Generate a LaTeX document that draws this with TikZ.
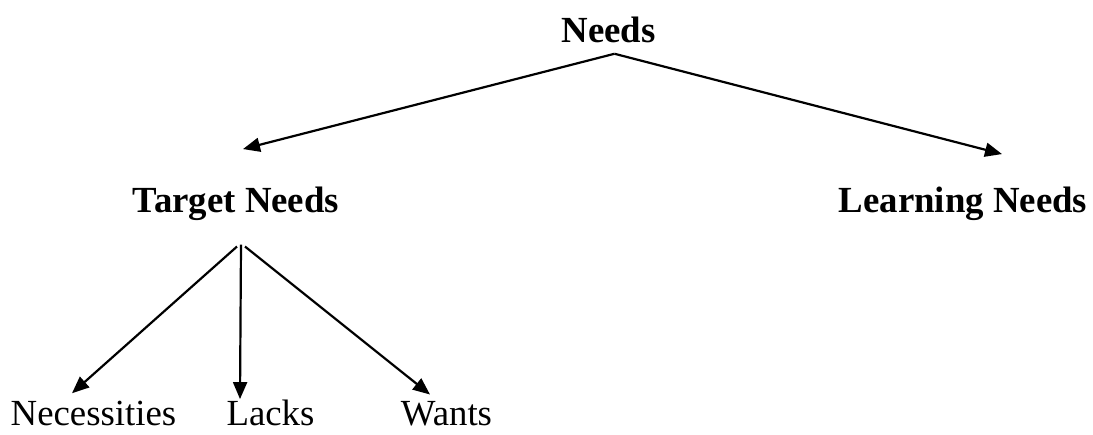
\documentclass[tikz,border=0pt]{standalone}
\usepackage{fontspec}
\setmainfont{Liberation Serif}
\usepackage{tikz}
\usetikzlibrary{arrows.meta,calc}
\tikzset{
  >={Triangle[length=8.5pt,width=7pt]},
  head/.style={font=\fontsize{18.4}{22}\selectfont\bfseries,inner sep=0pt,anchor=base},
  leaf/.style={font=\fontsize{18.4}{22}\selectfont,inner sep=0pt,anchor=base},
  arr/.style={->,draw=black,line width=1.1pt},
}
\begin{document}
\begin{tikzpicture}[x=0.5pt,y=-0.5pt]
\useasboundingbox (0,0) rectangle (1093,434);
\node[head] (needs) at (608.5,42) {Needs};
\node[head] (tn) at (236,212) {Target Needs};
\node[head] (ln) at (963,212) {Learning Needs};
\node[leaf] (nec) at (93.5,425) {Necessities};
\node[leaf] (lacks) at (270.5,425) {Lacks};
\node[leaf] (wants) at (446.5,425) {Wants};
\coordinate (top) at ($(needs.south)+(6,11)$);
\coordinate (fork) at ($(tn.south)+(5,24)$);
\draw[arr] (top) -- ($(tn.north)+(7,-37)$);
\draw[arr] (top) -- ($(ln.north)+(39,-32)$);
\draw[arr] ($(fork)+(-4,2)$) -- ($(nec.north)+(-21.5,-7)$);
\draw[arr] (fork) -- ($(lacks.north)+(-30.5,0)$);
\draw[arr] ($(fork)+(4,2)$) -- ($(wants.north)+(-16.5,-6)$);
\end{tikzpicture}
\end{document}
